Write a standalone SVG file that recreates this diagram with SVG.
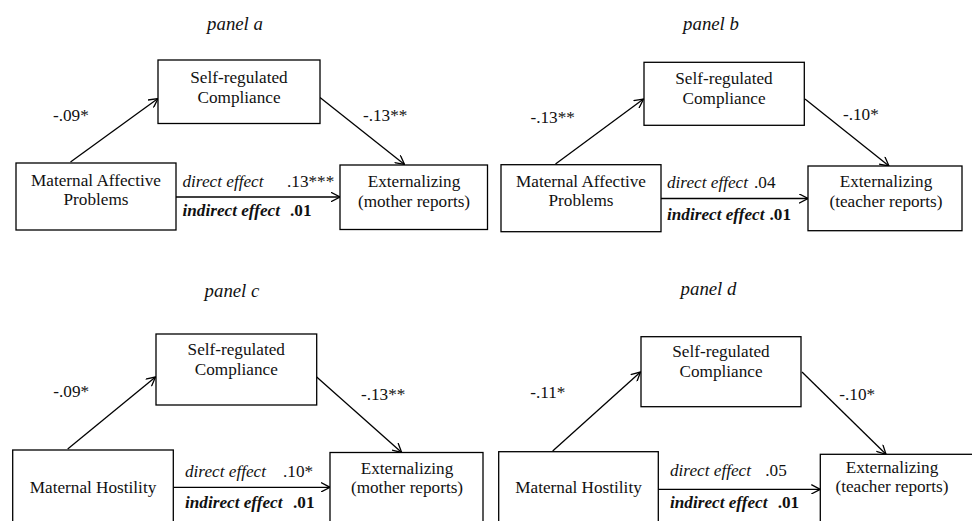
<svg xmlns="http://www.w3.org/2000/svg" width="972" height="521" viewBox="0 0 972 521" font-family="'Liberation Serif', 'Times New Roman', serif">
<defs>
<marker id="arr" viewBox="0 0 10 10" refX="9.5" refY="5" markerWidth="10" markerHeight="10" markerUnits="userSpaceOnUse" orient="auto">
<path d="M0.5,0.3 L9.5,5 L0.5,9.7" fill="none" stroke="#000" stroke-width="1.3"/>
</marker>
</defs>
<style>
text{font-family:'Liberation Serif', 'Times New Roman', serif;font-size:17.2px;fill:#111}
.t{font-style:italic;font-size:18.8px;text-anchor:middle}
.c{text-anchor:middle}
.i{font-style:italic}
.b{font-weight:bold}
.bi{font-weight:bold;font-style:italic}
.n rect{fill:#fff;stroke:#000;stroke-width:1.3}
.e line{stroke:#000;stroke-width:1.3;marker-end:url(#arr)}
</style>

<g id="titles">
<text class="t" x="235" y="30">panel a</text>
<text class="t" x="711" y="30">panel b</text>
<text class="t" x="232" y="297">panel c</text>
<text class="t" x="708.5" y="295">panel d</text>
</g>

<g id="connectors" class="e">
<line x1="70.5" y1="162" x2="158" y2="98.5"/>
<line x1="320" y1="97.5" x2="404.5" y2="164.5"/>
<line x1="176" y1="197" x2="340" y2="197"/>
<line x1="555.5" y1="164" x2="643.5" y2="99"/>
<line x1="805" y1="99" x2="889" y2="166"/>
<line x1="661" y1="198.5" x2="808" y2="198.5"/>
<line x1="67.7" y1="449" x2="155.5" y2="377"/>
<line x1="316.7" y1="377" x2="401.7" y2="452.5"/>
<line x1="173.3" y1="487.3" x2="330" y2="487.3"/>
<line x1="552.7" y1="451" x2="640.5" y2="372"/>
<line x1="802" y1="372" x2="886" y2="454.3"/>
<line x1="658.3" y1="489.3" x2="820.3" y2="489.3"/>
</g>

<g id="labels">
<text x="53" y="121">-.09*</text>
<text x="363" y="121">-.13**</text>
<text x="182.5" y="187"><tspan class="i">direct effect</tspan><tspan x="287">.13***</tspan></text>
<text x="182.5" y="215.5"><tspan class="bi">indirect effect</tspan><tspan class="b" x="290">.01</tspan></text>

<text x="530.5" y="123">-.13**</text>
<text x="843" y="120">-.10*</text>
<text x="667" y="188"><tspan class="i">direct effect</tspan><tspan x="754">.04</tspan></text>
<text x="667" y="220"><tspan class="bi">indirect effect</tspan><tspan class="b" x="769.5">.01</tspan></text>

<text x="53.3" y="397">-.09*</text>
<text x="361" y="400">-.13**</text>
<text x="185" y="477"><tspan class="i">direct effect</tspan><tspan x="283">.10*</tspan></text>
<text x="185" y="507.5"><tspan class="bi">indirect effect</tspan><tspan class="b" x="293">.01</tspan></text>

<text x="530.3" y="398.3">-.11*</text>
<text x="839.3" y="400">-.10*</text>
<text x="670" y="476"><tspan class="i">direct effect</tspan><tspan x="765.3">.05</tspan></text>
<text x="670" y="508.3"><tspan class="bi">indirect effect</tspan><tspan class="b" x="777.7">.01</tspan></text>
</g>

<g id="src_a" class="n">
<rect x="158" y="60" width="162" height="63.5"/>
<text class="c" x="239" y="83">Self-regulated</text>
<text class="c" x="239" y="103">Compliance</text>
</g>
<g id="map_a" class="n">
<rect x="16" y="163" width="160" height="67"/>
<text class="c" x="96" y="186">Maternal Affective</text>
<text class="c" x="96" y="205">Problems</text>
</g>
<g id="ext_a" class="n">
<rect x="340" y="165" width="147.5" height="64.5"/>
<text class="c" x="414" y="187">Externalizing</text>
<text class="c" x="414" y="206.5">(mother reports)</text>
</g>

<g id="src_b" class="n">
<rect x="644" y="62.3" width="160.3" height="63"/>
<text class="c" x="724" y="83.5">Self-regulated</text>
<text class="c" x="724" y="103.5">Compliance</text>
</g>
<g id="map_b" class="n">
<rect x="501" y="164.7" width="160" height="67"/>
<text class="c" x="581" y="186.7">Maternal Affective</text>
<text class="c" x="581" y="206">Problems</text>
</g>
<g id="ext_b" class="n">
<rect x="808" y="166" width="154" height="64.7"/>
<text class="c" x="886" y="187">Externalizing</text>
<text class="c" x="886" y="207">(teacher reports)</text>
</g>

<g id="src_c" class="n">
<rect x="156" y="334" width="160.7" height="71"/>
<text class="c" x="236.3" y="355">Self-regulated</text>
<text class="c" x="236.3" y="375">Compliance</text>
</g>
<g id="map_c" class="n">
<rect x="12.7" y="450" width="160.6" height="100"/>
<text class="c" x="93" y="492.5">Maternal Hostility</text>
</g>
<g id="ext_c" class="n">
<rect x="330" y="452.5" width="153" height="100"/>
<text class="c" x="407" y="473.5">Externalizing</text>
<text class="c" x="407" y="493">(mother reports)</text>
</g>

<g id="src_d" class="n">
<rect x="641" y="336.7" width="160" height="70"/>
<text class="c" x="721" y="357.3">Self-regulated</text>
<text class="c" x="721" y="377.3">Compliance</text>
</g>
<g id="map_d" class="n">
<rect x="498.7" y="451.7" width="159.6" height="100"/>
<text class="c" x="578.5" y="492.7">Maternal Hostility</text>
</g>
<g id="ext_d" class="n">
<rect x="820.3" y="454.3" width="200" height="100"/>
<text class="c" x="892" y="473.3">Externalizing</text>
<text class="c" x="892" y="491.7">(teacher reports)</text>
</g>
</svg>
